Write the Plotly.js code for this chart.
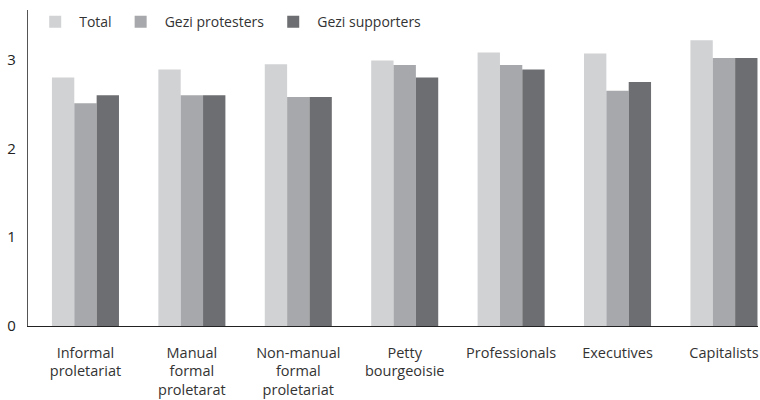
<!DOCTYPE html>
<html>
<head>
<meta charset="utf-8">
<script src="https://cdn.plot.ly/plotly-3.0.1.min.js"></script>
<style>html,body{margin:0;padding:0;background:#fff;}#chart{width:760px;height:400px;}</style>
</head>
<body>
<div id="chart"></div>
<script>
const categories = ["Informal<br>proletariat", "Manual<br>formal<br>proletarat", "Non-manual<br>formal<br>proletariat", "Petty<br>bourgeoisie", "Professionals", "Executives", "Capitalists"];
const seriesNames = ["Total", "Gezi protesters", "Gezi supporters"];
const total = [2.80, 2.89, 2.95, 2.99, 3.08, 3.07, 3.22];
const protesters = [2.51, 2.60, 2.58, 2.94, 2.94, 2.65, 3.02];
const supporters = [2.60, 2.60, 2.58, 2.80, 2.89, 2.75, 3.02];
const yTicks = [0, 1, 2, 3];

const colors = ["#d1d2d4", "#a7a8ab", "#6d6e71"];
const values = [total, protesters, supporters];
const xIdx = categories.map((c, i) => i);

const traces = values.map((v, k) => ({
  type: "bar",
  name: seriesNames[k],
  x: xIdx,
  y: v,
  marker: {color: colors[k], line: {width: 0}},
  hoverinfo: "y"
}));

const layout = {
  width: 760, height: 400,
  margin: {l: 28, r: 2, t: 10, b: 74},
  paper_bgcolor: "#fff", plot_bgcolor: "#fff",
  font: {family: "Open Sans, Lato, sans-serif", size: 14, color: "#333"},
  barmode: "group",
  bargap: 0.37,
  bargroupgap: 0,
  showlegend: true,
  legend: {orientation: "h", x: 0.0044, y: 1.012, xanchor: "left", yanchor: "top",
           itemwidth: 38,
           font: {size: 14, color: "#333"}, bgcolor: "rgba(0,0,0,0)", traceorder: "normal"},
  xaxis: {
    range: [-0.54, 6.32],
    tickmode: "array", tickvals: xIdx, ticktext: categories,
    tickfont: {size: 14.5, color: "#333"},
    showline: true, linecolor: "#222", linewidth: 1.2,
    ticks: "outside", ticklen: 13, tickcolor: "rgba(0,0,0,0)",
    showgrid: false, zeroline: false, fixedrange: true
  },
  yaxis: {
    range: [0, 3.56],
    tickmode: "array", tickvals: yTicks, ticktext: yTicks.map(String),
    showline: true, linecolor: "#555", linewidth: 1.2,
    ticks: "outside", ticklen: 8, tickcolor: "rgba(0,0,0,0)",
    tickfont: {size: 15, color: "#222"},
    showgrid: false, zeroline: false, fixedrange: true
  }
};

Plotly.newPlot("chart", traces, layout, {displayModeBar: false, staticPlot: true});
</script>
</body>
</html>
